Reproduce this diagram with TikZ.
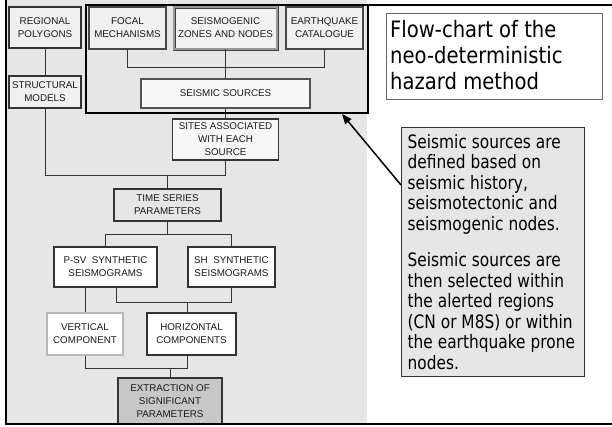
\documentclass[tikz,border=0pt]{standalone}
\usepackage{fontspec}
\setmainfont{Liberation Sans}
\newfontfamily\tahoma[FakeStretch=0.867]{DejaVu Sans}
\newfontfamily\tahomanote[FakeStretch=0.832]{DejaVu Sans}
\usetikzlibrary{arrows.meta,calc}
\definecolor{panel}{HTML}{E6E6E6}
\definecolor{boxline}{HTML}{333333}
\definecolor{txt}{HTML}{1A1A1A}
\tikzset{
  fc/.style={draw=boxline, line width=1.3pt, fill=white, align=center, inner sep=0pt,
             text=txt, font=\fontsize{9.8}{13}\selectfont},
  heavy/.style={fc, draw=black!72, line width=2.4pt, fill=panel!60!white},
  conn/.style={draw=boxline, line width=0.9pt},
  frameline/.style={draw=black, line width=2pt},
}
\begin{document}
\begin{tikzpicture}[x=1pt,y=-1pt]
\useasboundingbox (0,0) rectangle (612,426);
\fill[white] (0,0) rectangle (612,426);
\fill[panel] (6,0) rectangle (367,424);
\fill[panel] (86,5) rectangle (368,113);

% nodes
\node[fc, fill=panel!60!white, minimum width=72, minimum height=41] (reg) at (45,27.5) {REGIONAL\\POLYGONS};
\node[fc, fill=panel!60!white, minimum width=72, minimum height=32] (struct) at (45,92) {STRUCTURAL\\MODELS};
\node[heavy, minimum width=77, minimum height=42] (focal) at (127.5,28) {FOCAL\\MECHANISMS};
\node[fc, draw=black!75, line width=0.9pt, double=black!40, double distance=1.2pt, fill=panel!50!white,
      minimum width=103, minimum height=42] (seismo) at (225.5,28) {SEISMOGENIC\\ZONES AND NODES};
\node[heavy, minimum width=77, minimum height=42] (quake) at (324.5,28) {EARTHQUAKE\\CATALOGUE};
\node[fc, draw=black!68, line width=2.8pt, fill=white!97!black, minimum width=169, minimum height=29] (sources) at (225.5,93.5) {SEISMIC SOURCES};
\node[fc, line width=1.4pt, fill=white!97!black, minimum width=106, minimum height=41] (sites) at (225.5,139.5) {SITES ASSOCIATED\\WITH EACH\\SOURCE};
\node[fc, fill=panel, line width=1.4pt, minimum width=107, minimum height=32] (time) at (167.5,205) {TIME SERIES\\PARAMETERS};
\node[fc, line width=1.4pt, minimum width=103, minimum height=40] (psv) at (105.5,267) {P-SV\ \ SYNTHETIC\\SEISMOGRAMS};
\node[fc, line width=1.4pt, minimum width=87, minimum height=40] (sh) at (231.5,267) {SH\ \ SYNTHETIC\\SEISMOGRAMS};
\node[fc, draw=black!28, line width=1.4pt, minimum width=76, minimum height=42] (vert) at (85,334) {VERTICAL\\COMPONENT};
\node[fc, line width=1.8pt, minimum width=89, minimum height=42] (horiz) at (191.5,334) {HORIZONTAL\\COMPONENTS};
\node[fc, fill=black!22, line width=1.4pt, minimum width=104, minimum height=46] (extr) at (170,401) {EXTRACTION OF\\SIGNIFICANT\\PARAMETERS};

% connectors
\draw[conn] (reg.south) -- (struct.north);
\coordinate (jA) at ($(struct.south)+(0,67)$);
\draw[conn] (struct.south) -- (jA) -| (sites.south);
\draw[conn] (time.north) -- (time.north |- jA);
\coordinate (jB) at ($(focal.south)+(0,17)$);
\draw[conn] (focal.south) -- (jB) -| (quake.south);
\draw[conn] (seismo.south) -- (sources.north);
\draw[conn] (sources.south) -- (sites.north);
\coordinate (jC) at ($(time.south)+(0,13)$);
\draw[conn] (time.south) -- (jC);
\draw[conn] (psv.north) |- (jC) -| (sh.north);
\draw[conn] (vert.north) -- (vert.north |- psv.south);
\coordinate (pB) at ($(psv.south)+(10.5,0)$);
\coordinate (jD) at ($(pB)+(0,15)$);
\coordinate (hN) at ($(horiz.north)+(-4.5,0)$);
\coordinate (hS) at ($(horiz.south)+(-4.5,0)$);
\draw[conn] (pB) -- (jD) -| (sh.south);
\draw[conn] (hN) -- (hN |- jD);
\coordinate (jE) at ($(vert.south)+(0,13)$);
\draw[conn] (vert.south) -- (jE) -| (hS);
\draw[conn] (extr.north) -- (extr.north |- jE);

% group outline and frame
\draw[draw=black, line width=2.6pt] (86,5) rectangle (368,113);
\draw[frameline] (6,0) -- (6,424) -- (612,424);
\draw[frameline] (86,5) -- (612,5);

% right side
\node[draw=black!60, line width=0.8pt, fill=white, minimum width=216, minimum height=86, anchor=north west] (title) at (386,13) {};
\node[anchor=north west, inner sep=0pt, align=left, font=\tahoma\fontsize{22.6}{26}\selectfont, text=black] (titletext)
  at ($(title.north west)+(4,7)$) {Flow-chart of the\\neo-deterministic\\hazard method};

\node[draw=boxline, line width=1.3pt, fill=panel, minimum width=183, minimum height=249, anchor=north west] (note) at (401,127) {};
\node[anchor=north west, inner sep=0pt, align=left, font=\tahomanote\fontsize{18.5}{20.5}\selectfont, text=black] (notetext)
  at ($(note.north west)+(6.5,7)$) {Seismic sources are\\defined based on\\seismic history,\\seismotectonic and\\seismogenic nodes.\\[16pt]Seismic sources are\\then selected within\\the alerted regions\\(CN or M8S) or within\\the earthquake prone\\nodes.};

\coordinate (tip) at (342,114);
\draw[line width=1.5pt, -{Triangle[length=10pt,width=8pt]}] ($(note.north west)+(0,58)$) -- (tip);
\end{tikzpicture}
\end{document}
